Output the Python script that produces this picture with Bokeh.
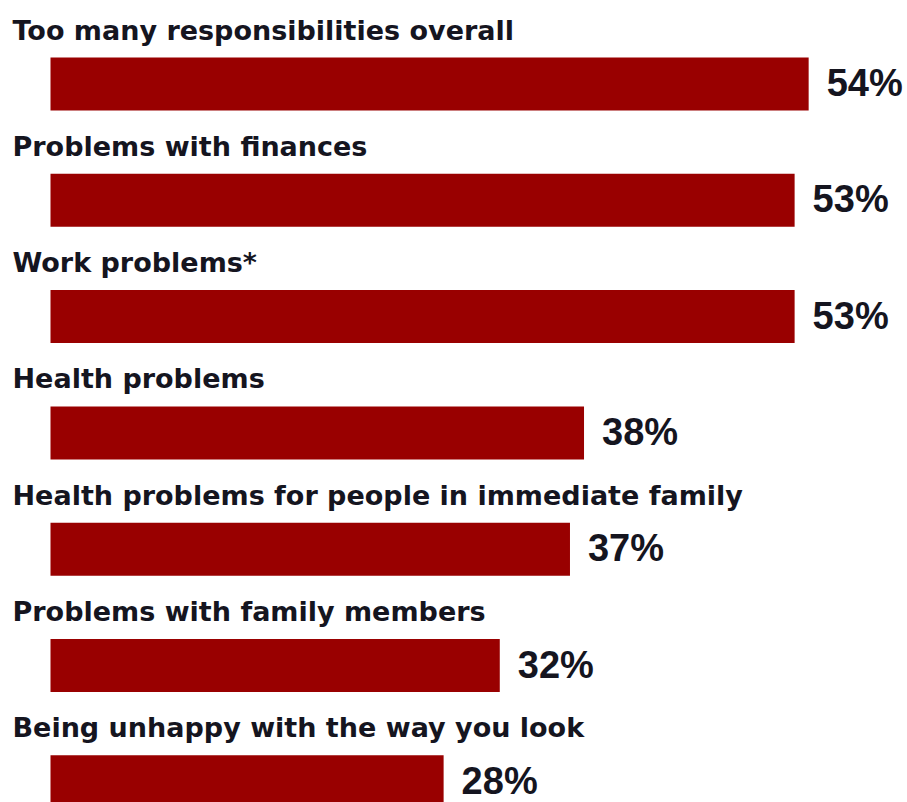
from bokeh.plotting import figure
from bokeh.models import ColumnDataSource, Range1d
from bokeh.core.properties import value
from bokeh.embed import file_html
from bokeh.resources import INLINE

categories = [
    "Too many responsibilities overall",
    "Problems with finances",
    "Work problems*",
    "Health problems",
    "Health problems for people in immediate family",
    "Problems with family members",
    "Being unhappy with the way you look",
]
values = [54, 53, 53, 38, 37, 32, 28]
value_labels = [f"{v}%" for v in values]

idx = list(range(len(categories)))
src = ColumnDataSource(dict(y=idx, v=values, cat=categories, lab=value_labels,
                            zero=[0] * len(values)))

W, H = 907, 802
px_per_unit = 14.04
x0_px = 50
row_px = 116.3
first_center_px = 83.5

p = figure(width=W, height=H, output_backend="svg", toolbar_location=None,
           x_range=Range1d(-x0_px / px_per_unit, (W - x0_px) / px_per_unit),
           y_range=Range1d((H - first_center_px) / row_px, -first_center_px / row_px),
           min_border=0, min_border_left=0, min_border_right=0,
           min_border_top=0, min_border_bottom=0)
p.axis.visible = False
p.grid.visible = False
p.outline_line_color = None
p.background_fill_color = "white"
p.border_fill_color = "white"

bar_h = 53 / row_px
p.hbar(y="y", left="zero", right="v", height=bar_h, source=src,
       fill_color="#990000", line_color=None)

p.text(x="zero", y="y", text="cat", source=src, x_offset=-38, y_offset=-54,
       text_font=value("DejaVu Sans"), text_font_style="bold", text_font_size="27px",
       text_color="#15151f", text_baseline="alphabetic", text_align="left")

p.text(x="v", y="y", text="lab", source=src, x_offset=18, y_offset=-1,
       text_font=value("Liberation Sans"), text_font_style="bold", text_font_size="38px",
       text_color="#15151f", text_baseline="middle", text_align="left")

open("out.html", "w").write(file_html(p, INLINE))
